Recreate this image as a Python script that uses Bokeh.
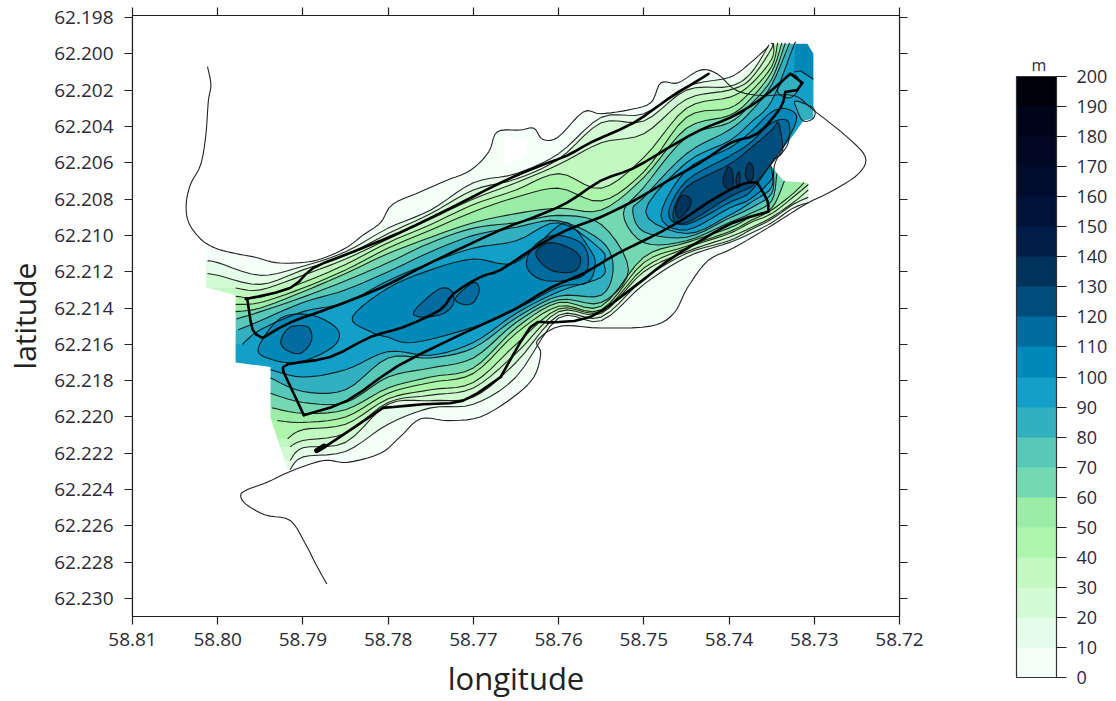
from bokeh.plotting import figure
from bokeh.models import Range1d, FixedTicker, LinearAxis, NumeralTickFormatter, ColorBar, LinearColorMapper
from bokeh.embed import file_html
from bokeh.resources import INLINE

# All positions: longitude = 58 + v/1000, latitude = 62 + v/1000
_ = None
STATION_LON = [800, 795, 790, 785, 780, 775, 770, 765, 760, 755, 750, 745, 740, 737.5, 735, 732.5]

# contour crossings at the stations, north side of the valley
N10 = [211.5, 212.2, 211.7, 210.9, 209.6, 208.6, 207.1, 206.6, 205.5, 203.5, 203.3, 201.8, 201.3, 200.5, _, _]
N20 = [212.2, 212.7, 211.9, 211.1, 209.9, 208.8, 207.5, 206.9, 205.8, 203.8, 203.7, 202.0, 201.8, 201.1, _, _]
N30 = [_, 213.0, 212.2, 211.3, 210.2, 209.1, 208.0, 207.1, 206.1, 204.9, 204.4, 202.5, 202.0, 201.4, 199.7, _]
N40 = [_, 213.4, 212.6, 211.6, 210.4, 209.4, 208.3, 207.5, 206.6, 207.4, 205.7, 203.0, 202.4, 201.7, 200.3, _]
N50 = [_, 213.7, 212.9, 211.9, 210.7, 209.7, 208.7, 207.9, 207.4, 208.1, 206.5, 203.5, 203.0, 202.1, 200.7, _]
N60 = [_, 214.0, 213.1, 212.1, 211.0, 210.1, 209.3, 208.8, 208.5, 208.6, 206.8, 204.1, 203.4, 202.5, 201.0, _]
# south side
S10 = [_, _, 222.2, 221.9, 220.4, 219.5, 219.3, 217.8, 214.55, 214.7, 212.7, 211.2, 210.4, 209.9, 209.3, 208.5]
S20 = [_, _, 221.7, 221.4, 219.3, 219.1, 218.9, 217.0, 214.4, 214.5, 212.4, 211.0, 210.3, 209.7, 209.1, 208.3]
S30 = [_, _, 221.3, 220.9, 219.2, 218.8, 218.4, 216.5, 214.2, 214.3, 212.0, 210.9, 210.1, 209.6, 209.0, 208.2]
S40 = [_, _, 220.7, 220.4, 219.0, 218.5, 218.1, 216.0, 214.05, 214.2, 211.8, 210.7, 209.9, 209.3, 208.8, 207.9]
S50 = [_, _, 220.3, 220.0, 218.7, 218.1, 217.6, 215.4, 213.9, 214.1, 211.5, 210.6, 209.8, 209.2, 208.6, 207.7]
S60 = [_, _, 219.8, 219.6, 218.4, 217.8, 217.3, 215.1, 213.7, 213.9, 211.2, 210.4, 209.6, 209.0, 208.5, _]

# ends of those contours: (lon, lat)
HEAD_N = {10: (801.2, 211.4), 20: (801.2, 212.1), 30: (797.9, 212.9), 40: (797.9, 213.35), 50: (797.9, 213.8), 60: (797.9, 214.2)}
TAIL_N = {10: (735.4, 199.6), 20: (735.3, 199.5), 30: (735.1, 199.4), 40: (734.8, 199.4), 50: (734.3, 199.4), 60: (733.8, 199.4)}
HEAD_S = {10: (791.5, 222.9), 20: (791.5, 222.4), 30: (791.5, 221.65), 40: (791.8, 221.2), 50: (793.0, 220.2), 60: (793.6, 219.5)}
TAIL_S = {10: (730.7, 208.2), 20: (730.7, 207.9), 30: (730.7, 207.5), 40: (730.7, 207.2), 50: (731.2, 207.1), 60: (733.5, 207.0)}

# western basin, levels 70-90
W70_N = [_, 214.2, 213.4, 212.5, 211.5, 210.4, 209.6, 209.3, 208.9, 209.4, _, _, _, _, _, _]
W70_S = [_, _, 219.2, 219.2, 217.8, 217.3, 216.75, 214.8, 213.55, 213.7, _, _, _, _, _, _]
W80_N = [_, 214.7, 213.7, 213.0, 212.0, 210.9, 210.0, 209.55, 209.2, 210.3, _, _, _, _, _, _]
W80_S = [_, _, 218.6, 218.5, 216.75, 216.75, 216.2, 214.55, 213.35, 213.3, _, _, _, _, _, _]
W90_N = [_, 215.2, 214.2, 213.7, 212.5, 211.5, 210.7, 210.3, 209.3, 210.8, _, _, _, _, _, _]
W90_S = [_, _, 217.8, 217.4, 216.4, 216.6, 215.9, 214.3, 213.1, 212.3, _, _, _, _, _, _]
W_HEAD_N = {70: (797.8, 214.6), 80: (797.6, 215.2), 90: (797.1, 216.0)}
W_HEAD_S = {70: (793.8, 218.7), 80: (793.8, 217.85), 90: (793.8, 217.4)}
W_END = {70: (751.8, 211.9), 80: (753.6, 211.75), 90: (754.7, 211.5)}

# eastern basin, levels 70-90
E70_N = [_, _, _, _, _, _, _, _, _, _, 207.35, 204.6, 203.8, 202.8, 201.4, _]
E70_S = [_, _, _, _, _, _, _, _, _, _, 210.4, 210.3, 209.3, 208.8, 208.1, _]
E80_N = [_, _, _, _, _, _, _, _, _, _, 207.9, 205.5, 204.2, 203.2, 201.7, _]
E80_S = [_, _, _, _, _, _, _, _, _, _, 209.8, 210.1, 209.05, 208.5, 207.7, _]
E90_N = [_, _, _, _, _, _, _, _, _, _, _, 206.0, 204.8, 203.8, 202.6, 199.65]
E90_S = [_, _, _, _, _, _, _, _, _, _, _, 209.9, 208.9, 208.2, 207.35, _]
E_HEAD = {70: (752.4, 208.8), 80: (751.3, 208.6), 90: (749.8, 208.7)}
E_TAIL_N = {70: (733.4, 199.4), 80: (732.9, 199.4), 90: (732.2, 199.4)}
E_TAIL_S = {70: (734.4, 206.6), 80: (734.8, 206.4), 90: (735.1, 206.15)}

# closed pockets
MAIN100_LON = [784.2, 780.0, 775.0, 770.0, 765.1, 760.0, 758.3, 756.5, 755.7, 756.6, 760.0, 765.1, 770.0, 777.0, 780.1, 782.1]
MAIN100_LAT = [214.5, 212.9, 211.9, 211.3, 211.5, 209.45, 209.55, 210.65, 211.5, 212.6, 212.85, 214.1, 215.05, 215.9, 215.6, 215.3]
LEFT100_LON = [795.2, 792.6, 788.9, 785.9, 786.5, 790.6, 794.2]
LEFT100_LAT = [216.15, 214.55, 214.4, 215.2, 216.15, 217.0, 216.75]
LEFT110_LON = [792.6, 791.5, 789.4, 789.0, 790.3, 792.0]
LEFT110_LAT = [215.8, 215.05, 215.05, 215.8, 216.5, 216.3]
MID110A_LON = [777.0, 774.2, 772.7, 772.3, 773.5, 775.9]
MID110A_LAT = [214.2, 213.0, 213.0, 213.7, 214.3, 214.5]
MID110B_LON = [772.1, 770.0, 769.3, 770.0, 771.2]
MID110B_LAT = [213.45, 212.6, 213.0, 213.7, 213.8]
WEST110_LON = [763.1, 760.6, 757.4, 756.5, 757.4, 761.5, 763.7]
WEST110_LAT = [210.7, 210.0, 210.4, 211.4, 212.3, 212.5, 211.8]
WEST120_LON = [762.7, 761.0, 758.3, 757.4, 758.3, 761.0]
WEST120_LAT = [211.0, 210.4, 210.8, 211.4, 212.0, 211.9]
EAST100_LON = [748.0, 745, 740, 737.5, 735, 733.1, 732.1, 734.5, 735, 737.5, 740, 745]
EAST100_LAT = [208.9, 206.4, 205.2, 204.3, 203.2, 203.05, 203.7, 205.9, 206.9, 208.0, 208.5, 209.7]
EAST110_LON = [747.1, 745, 740, 737.5, 735, 733.1, 733.0, 733.7, 734.5, 735, 737.5, 740, 745]
EAST110_LAT = [208.8, 207.0, 205.65, 204.9, 203.8, 203.7, 204.8, 205.4, 205.7, 206.0, 207.6, 208.2, 209.4]
EAST120_LON = [746.6, 745, 740, 737.5, 735, 734.2, 733.7, 734.5, 735.1, 736.7, 737.5, 740, 745]
EAST120_LAT = [208.9, 207.35, 206.1, 205.2, 204.2, 203.8, 205.3, 205.75, 206.1, 207.0, 207.35, 207.9, 209.3]
E130A_LON = [746.3, 745.5, 744.5, 744.7, 745.9]
E130A_LAT = [208.5, 207.8, 208.0, 208.5, 209.05]
E130B_LON = [740.7, 740.2, 739.6, 739.6, 740.3]
E130B_LAT = [207.0, 206.25, 206.5, 207.35, 207.4]
E130C_LON = [738.1, 737.7, 737.2, 737.2, 737.7]
E130C_LAT = [206.6, 206.0, 206.25, 206.85, 207.0]
E130D_LON = [739.2, 738.9, 738.7, 738.9]
E130D_LAT = [207.0, 206.5, 206.8, 207.4]
SHOAL_A_LON = [734.3, 732.8, 731.6, 732.4, 733.4]
SHOAL_A_LAT = [202.0, 201.1, 201.6, 202.3, 202.4]
SHOAL_B_LON = [732.2, 730.1, 730.1, 731.3, 732.0]
SHOAL_B_LAT = [202.6, 203.0, 203.55, 203.7, 203.1]
NE100_LON = [732.2, 730.8, 730.1, 730.1, 731.6, 732.4]
NE100_LAT = [199.4, 199.4, 200.0, 201.4, 200.95, 201.0]
NE100_EDGE_LON = [732.4, 731.6, 730.1]
NE100_EDGE_LAT = [201.0, 200.95, 201.4]

# shoreline
SHORE_LON = [801.2, 800.8, 801.1, 801.4, 802.0, 803.2, 803.7, 803.4, 802.0, 800.3, 797.9, 795.6, 793.2, 790.3, 787.9, 785.0, 783.0, 780.9, 779.5, 776.2, 773.3, 770.3, 768.2, 767.2, 764.5, 762.9, 761.9, 760.1, 757.1, 755.1, 751.9, 749.2, 748.0, 746.0, 743.4, 741.4, 739.2, 736.3, 732.4, 730.1, 726.1, 724.0, 724.8, 727.7, 730.7, 732.8, 735.5, 739.5, 742.5, 744.9, 746.5, 749.2, 755.1, 759.8, 762.5, 762.1, 762.9, 765.3, 769.2, 773.0, 776.2, 778.6, 780.9, 784.8, 787.6, 791.5, 794.2, 796.5, 797.3, 796.7, 794.4, 791.5, 789.7, 788.5, 787.2]
SHORE_LAT = [200.7, 201.7, 202.6, 204.5, 206.1, 207.2, 208.3, 209.3, 210.2, 210.7, 211.0, 211.2, 211.5, 211.5, 211.3, 210.7, 210.0, 209.3, 208.3, 207.6, 207.0, 206.4, 205.4, 204.3, 204.2, 204.1, 204.7, 204.6, 203.2, 203.3, 203.1, 202.7, 201.6, 201.6, 200.9, 201.1, 202.0, 202.3, 202.3, 203.1, 204.6, 205.7, 206.6, 207.5, 208.2, 208.8, 209.6, 210.7, 211.4, 212.9, 214.3, 215.0, 215.1, 215.0, 215.8, 216.5, 217.8, 218.9, 220.0, 220.2, 220.1, 221.1, 222.0, 222.5, 222.4, 223.0, 223.6, 224.0, 224.3, 224.8, 225.4, 225.7, 227.0, 228.1, 229.2]

# survey track (bold line)
TRACK_LON = [742.4, 743.4, 747.2, 751.2, 756.3, 759.0, 762.9, 766.8, 772.7, 778.9, 784.1, 788.8, 791.5, 796.7, 796.5, 795.9, 794.7, 791.5, 786.8, 780.9, 775.0, 766.8, 762.9, 759.0, 755.1, 751.2, 747.2, 743.4, 739.8, 736.3, 732.8, 731.4, 732.0, 733.4, 734.0, 736.7, 739.8, 743.4, 747.2, 751.2, 755.1, 759.0, 762.9, 766.8, 769.2, 772.3, 773.9, 778.2, 782.1, 786.8, 791.8, 792.3, 789.9, 784.8, 778.9, 771.2, 765.3, 761.0, 757.1, 753.1, 749.2, 745.7, 742.5, 739.5, 737.8, 736.7, 735.5, 735.4, 739.5, 743.4, 747.2, 751.2, 756.3, 761.3, 763.3, 766.8, 771.2, 775.9, 780.6, 787.6, 788.3]
TRACK_LAT = [201.1, 201.4, 202.5, 203.8, 204.9, 205.6, 206.3, 207.1, 208.5, 209.9, 210.9, 211.8, 212.9, 213.5, 213.6, 215.2, 215.65, 214.8, 214.0, 212.9, 211.5, 209.7, 209.0, 208.2, 207.0, 206.3, 205.2, 204.2, 203.5, 202.5, 201.1, 201.6, 202.0, 202.1, 203.0, 204.4, 204.9, 206.0, 207.0, 208.1, 209.0, 209.7, 210.7, 211.9, 212.3, 213.2, 214.1, 215.05, 215.6, 216.7, 217.1, 217.5, 219.9, 219.1, 217.2, 215.4, 214.1, 212.9, 212.1, 211.0, 210.1, 209.2, 208.2, 207.4, 207.1, 207.1, 208.1, 208.7, 209.3, 210.3, 211.4, 212.85, 214.5, 214.8, 215.05, 217.8, 219.1, 219.3, 219.5, 221.7, 221.8]
TRACK_CORNERS = [13, 16, 30, 31, 32, 33, 51, 52, 65, 67, 73, 75, 78]
# the blot at the track's end
BLOT_LON = [788.4, 787.5]
BLOT_LAT = [221.85, 221.6]

# extent of the gridded colour field
FIELD_LON = [801.4, 801.4, 797.9, 797.9, 793.8, 793.8, 791.5, 755.1, 731.6, 730.7, 730.7, 733.6, 735.1, 734.8, 732.5, 731.3, 730.1, 730.1, 730.8, 734.8, 739.5, 741.0, 801.4]
FIELD_LAT = [211.25, 212.85, 213.3, 217.0, 217.25, 220.05, 223.35, 223.35, 211.4, 208.2, 207.1, 207.0, 206.15, 205.9, 204.5, 203.7, 203.55, 200.0, 199.45, 199.45, 201.6, 200.4, 200.4]
GAP_LON = [766.4, 763.5, 763.9, 765.8, 766.4]
GAP_LAT = [204.5, 204.8, 205.6, 206.1, 205.9]

# colour scale
LEVELS = list(range(0, 200, 10))
BAND_COLORS = ["#f3fff8", "#e4fce8", "#d3fbd3", "#c2f9c0", "#adf5ab", "#9aeca6", "#74d8b2", "#58c8b8",
               "#33b0c0", "#12a0c8", "#0089b8", "#006b9e", "#004d7c", "#00335c", "#001c48", "#00123a",
               "#000c2e", "#000824", "#00041a", "#00000c"]
X_TICKS = [58.81, 58.80, 58.79, 58.78, 58.77, 58.76, 58.75, 58.74, 58.73, 58.72]
Y_TICKS = [62.198, 62.200, 62.202, 62.204, 62.206, 62.208, 62.210, 62.212, 62.214, 62.216,
           62.218, 62.220, 62.222, 62.224, 62.226, 62.228, 62.230]
BAR_TICKS = list(range(0, 201, 10))
UNIT_TEXT = "m"


def X(v):
    return [58 + a / 1000 for a in v]


def Y(v):
    return [62 + a / 1000 for a in v]


def smooth(pts, closed=False, n=5):
    if len(pts) < 3:
        return pts
    m = len(pts)
    out = []
    segs = m if closed else m - 1
    for i in range(segs):
        if closed:
            p0, p1, p2, p3 = pts[(i - 1) % m], pts[i], pts[(i + 1) % m], pts[(i + 2) % m]
        else:
            p0, p1, p2, p3 = pts[max(i - 1, 0)], pts[i], pts[i + 1], pts[min(i + 2, m - 1)]
        for k in range(n):
            t = k / n
            out.append(tuple(
                0.5 * (2 * p1[d] + (p2[d] - p0[d]) * t + (2 * p0[d] - 5 * p1[d] + 4 * p2[d] - p3[d]) * t * t
                       + (3 * p1[d] - p0[d] - 3 * p2[d] + p3[d]) * t ** 3) for d in (0, 1)))
    if not closed:
        out.append(pts[-1])
    return out


def at_stations(lat):
    return [(lo, la) for lo, la in zip(STATION_LON, lat) if la is not None]


FILL_COLOR = dict(zip(LEVELS, BAND_COLORS))
LON0, LON1 = 58.81, 58.72
LAT_TOP, LAT_BOTTOM = 62.19789, 62.23099

p = figure(width=1108, height=701, output_backend="svg", toolbar_location=None,
           x_range=Range1d(LON0, LON1), y_range=Range1d(LAT_BOTTOM, LAT_TOP),
           min_border_left=132, min_border_right=209, min_border_top=15, min_border_bottom=84,
           x_axis_label="longitude", y_axis_label="latitude")
x_main, y_main = p.below[0], p.left[0]
p.grid.visible = False
p.outline_line_color = "#222222"
p.outline_line_width = 1.2

lines = []


def add_fill(level, pts):
    xs, ys = zip(*pts)
    p.patch(X(xs), Y(ys), fill_color=FILL_COLOR[level], line_color=None)


def band(level, north, south, hn, ts_n, hs, ts_s):
    n = smooth([hn] + at_stations(north) + [ts_n])
    s = smooth([hs] + at_stations(south) + [ts_s])
    far = 729.0
    west = hn[0] + 12
    add_fill(level, n + [(far, ts_n[1]), (far, ts_s[1])] + s[::-1] + [(west, hs[1]), (west, hn[1])])
    lines.append(n)
    lines.append(s)


def basin_west(level, north, south):
    hn, hs, e = W_HEAD_N[level], W_HEAD_S[level], W_END[level]
    n = [hn] + at_stations(north)
    s = [hs] + at_stations(south)
    c = smooth(n + [e] + s[::-1])
    add_fill(level, c + [(hs[0] + 12, hs[1]), (hn[0] + 12, hn[1])])
    lines.append(c)


def basin_east(level, north, south):
    c = smooth([E_TAIL_S[level]] + at_stations(south)[::-1] + [E_HEAD[level]] + at_stations(north) + [E_TAIL_N[level]])
    add_fill(level, c + [(729.0, E_TAIL_N[level][1]), (729.0, E_TAIL_S[level][1])])
    lines.append(c)


def pocket(level, lon, lat):
    c = smooth(list(zip(lon, lat)), closed=True)
    add_fill(level, c)
    lines.append(c + [c[0]])


# the lightest band: everything inside the shoreline
add_fill(0, smooth(list(zip(SHORE_LON[8:66], SHORE_LAT[8:66]))))
for lvl, nn, ss in [(10, N10, S10), (20, N20, S20), (30, N30, S30), (40, N40, S40), (50, N50, S50), (60, N60, S60)]:
    band(lvl, nn, ss, HEAD_N[lvl], TAIL_N[lvl], HEAD_S[lvl], TAIL_S[lvl])
for lvl, wn, ws, en, es in [(70, W70_N, W70_S, E70_N, E70_S), (80, W80_N, W80_S, E80_N, E80_S), (90, W90_N, W90_S, E90_N, E90_S)]:
    basin_west(lvl, wn, ws)
    basin_east(lvl, en, es)
add_fill(100, list(zip(NE100_LON, NE100_LAT)))
lines.append(list(zip(NE100_EDGE_LON, NE100_EDGE_LAT)))
for lvl, lo, la in [(100, MAIN100_LON, MAIN100_LAT), (100, LEFT100_LON, LEFT100_LAT), (100, EAST100_LON, EAST100_LAT),
                    (80, SHOAL_A_LON, SHOAL_A_LAT), (80, SHOAL_B_LON, SHOAL_B_LAT),
                    (110, LEFT110_LON, LEFT110_LAT), (110, MID110A_LON, MID110A_LAT), (110, MID110B_LON, MID110B_LAT),
                    (110, WEST110_LON, WEST110_LAT), (110, EAST110_LON, EAST110_LAT),
                    (120, WEST120_LON, WEST120_LAT), (120, EAST120_LON, EAST120_LAT),
                    (130, E130A_LON, E130A_LAT), (130, E130B_LON, E130B_LAT), (130, E130C_LON, E130C_LAT), (130, E130D_LON, E130D_LAT)]:
    pocket(lvl, lo, la)

# white outside the gridded field
box_x = [LON0, LON1, LON1, LON0]
box_y = [LAT_TOP, LAT_TOP, LAT_BOTTOM, LAT_BOTTOM]
p.multi_polygons(xs=[[[box_x, X(FIELD_LON)]]], ys=[[[box_y, Y(FIELD_LAT)]]], fill_color="white", line_color=None)
p.patch(X(GAP_LON), Y(GAP_LAT), fill_color="white", line_color=None)

# contours
p.multi_line([X([a for a, b in c]) for c in lines], [Y([b for a, b in c]) for c in lines],
             line_color="#111111", line_width=1.1, line_alpha=0.9)
shore = smooth(list(zip(SHORE_LON, SHORE_LAT)))
p.line(X([a for a, b in shore]), Y([b for a, b in shore]), line_color="#222222", line_width=1.1)
track_pts = list(zip(TRACK_LON, TRACK_LAT))
cuts = [0] + TRACK_CORNERS + [len(track_pts) - 1]
for a, b in zip(cuts[:-1], cuts[1:]):
    seg = smooth(track_pts[a:b + 1], n=3)
    p.line(X([q[0] for q in seg]), Y([q[1] for q in seg]), line_color="black", line_width=2.6, line_cap="round")
p.line(X(BLOT_LON), Y(BLOT_LAT), line_color="black", line_width=5, line_cap="round")

TICK_FONT = "Open Sans"
TICK_COLOR = "#2a2a3a"


def style_axis(ax, labels=True):
    ax.major_tick_line_color = "#222222"
    ax.major_tick_line_width = 1.2
    ax.major_tick_out = 8
    ax.major_tick_in = 0
    ax.minor_tick_line_color = None
    ax.axis_line_color = "#222222"
    ax.axis_line_width = 1.2
    if labels:
        ax.major_label_text_font = TICK_FONT
        ax.major_label_text_font_size = "19px"
        ax.major_label_text_color = TICK_COLOR
        ax.major_label_standoff = 8
    else:
        ax.major_label_text_font_size = "0px"
        ax.major_label_text_color = None


x_main.ticker = FixedTicker(ticks=X_TICKS)
y_main.ticker = FixedTicker(ticks=Y_TICKS)
x_main.formatter = NumeralTickFormatter(format="0.00")
y_main.formatter = NumeralTickFormatter(format="0.000")
style_axis(x_main)
style_axis(y_main)
y_main.major_label_standoff = 11
for ax, side, t in [(LinearAxis(), "above", X_TICKS), (LinearAxis(), "right", Y_TICKS)]:
    ax.ticker = FixedTicker(ticks=t)
    style_axis(ax, labels=False)
    p.add_layout(ax, side)
for ax, size, st in [(x_main, "31px", 8), (y_main, "30px", 6)]:
    ax.axis_label_text_font = TICK_FONT
    ax.axis_label_text_font_style = "normal"
    ax.axis_label_text_font_size = size
    ax.axis_label_text_color = "#222222"
    ax.axis_label_standoff = st

mapper = LinearColorMapper(palette=BAND_COLORS, low=0, high=200)
bar = ColorBar(color_mapper=mapper, ticker=FixedTicker(ticks=BAR_TICKS), width=40, height=601,
               location=(884, -61), padding=0, margin=0,
               major_label_text_font=TICK_FONT, major_label_text_font_size="18px",
               major_label_text_color=TICK_COLOR, label_standoff=10,
               major_tick_line_color="#222222", major_tick_line_width=1.2, major_tick_in=0, major_tick_out=10,
               minor_tick_line_color=None, bar_line_color="#333333", bar_line_width=1.2,
               border_line_color=None, background_fill_color=None)
p.add_layout(bar)

# the unit above the colour bar: one labelled tick of an otherwise invisible axis
unit_lat = 62.2006
unit_axis = LinearAxis(ticker=FixedTicker(ticks=[unit_lat]), major_label_overrides={unit_lat: UNIT_TEXT},
                       axis_line_color=None, major_tick_line_color=None, minor_tick_line_color=None,
                       major_tick_out=0, major_tick_in=0, major_label_standoff=124,
                       major_label_text_font=TICK_FONT, major_label_text_font_size="16px",
                       major_label_text_color=TICK_COLOR)
p.add_layout(unit_axis, "right")

open("out.html", "w").write(file_html(p, INLINE))
